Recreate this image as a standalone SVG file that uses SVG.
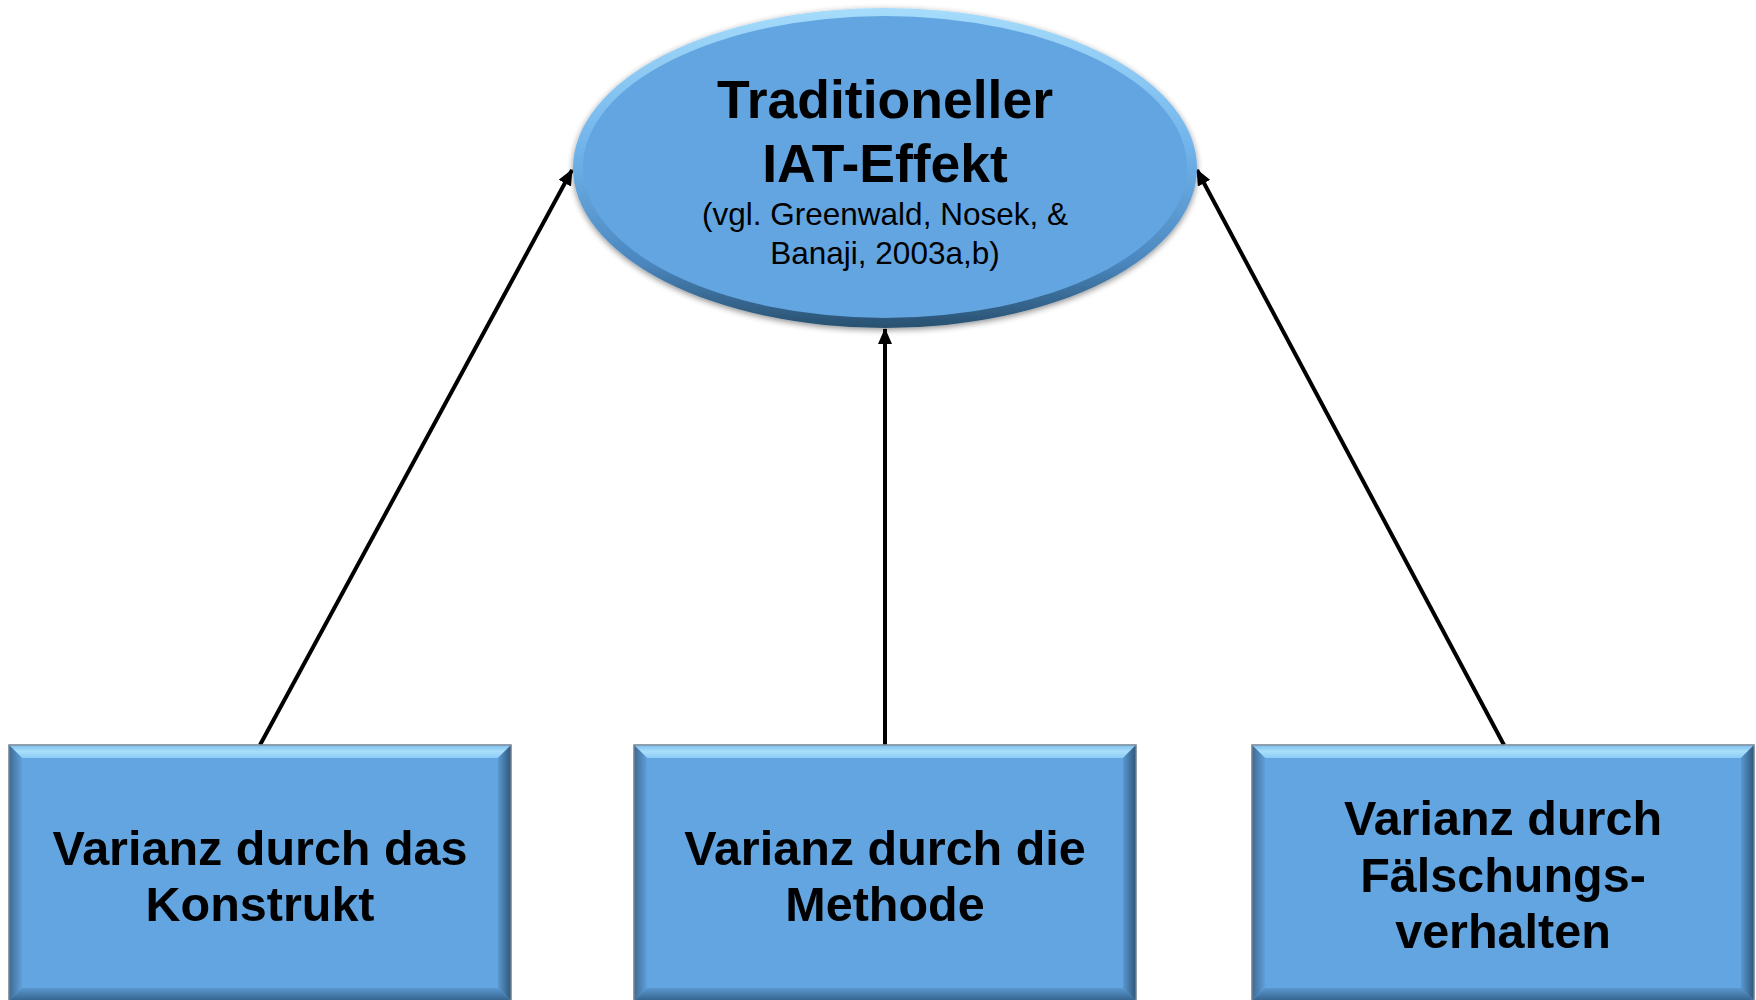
<svg xmlns="http://www.w3.org/2000/svg" xmlns:xlink="http://www.w3.org/1999/xlink" width="1756" height="1000" viewBox="0 0 1756 1000">
  <style>
    .big { font-family: "Liberation Sans", Arial, sans-serif; font-weight: bold; font-size: 53.5px; fill: #000; text-anchor: middle; }
    .small { font-family: "Liberation Sans", Arial, sans-serif; font-size: 31.5px; fill: #000; text-anchor: middle; }
    .box { font-family: "Liberation Sans", Arial, sans-serif; font-weight: bold; font-size: 48.5px; fill: #000; text-anchor: middle; }
    .conn { stroke: #000; stroke-width: 4; fill: none; marker-end: url(#arrow); }
  </style>
  <defs>
    <marker id="arrow" markerUnits="userSpaceOnUse" markerWidth="16" markerHeight="14" refX="15" refY="7" orient="auto">
      <path d="M0,0 L16,7 L0,14 Z" fill="#000"/>
    </marker>
    <linearGradient id="ellRing" x1="0" y1="0" x2="0" y2="1">
      <stop offset="0" stop-color="#A6DCFB"/>
      <stop offset="0.45" stop-color="#6FB2EA"/>
      <stop offset="0.8" stop-color="#4A86BD"/>
      <stop offset="1" stop-color="#28506F"/>
    </linearGradient>
    <linearGradient id="topBev" x1="0" y1="0" x2="0" y2="1">
      <stop offset="0" stop-color="#7DBDEA"/>
      <stop offset="0.5" stop-color="#A9DEFB"/>
      <stop offset="1" stop-color="#8CCBF4"/>
    </linearGradient>
    <linearGradient id="rightBev" x1="0" y1="0" x2="1" y2="0">
      <stop offset="0" stop-color="#5A98D2"/>
      <stop offset="1" stop-color="#2F5678"/>
    </linearGradient>
    <linearGradient id="leftBev" x1="0" y1="0" x2="1" y2="0">
      <stop offset="0" stop-color="#3E6A92"/>
      <stop offset="1" stop-color="#5F9FDA"/>
    </linearGradient>
    <linearGradient id="botBev" x1="0" y1="0" x2="0" y2="1">
      <stop offset="0" stop-color="#5A97CF"/>
      <stop offset="1" stop-color="#34628C"/>
    </linearGradient>
    <filter id="shadow" x="-10%" y="-10%" width="120%" height="125%">
      <feGaussianBlur in="SourceAlpha" stdDeviation="3"/>
      <feOffset dx="0" dy="2" result="b"/>
      <feComponentTransfer><feFuncA type="linear" slope="0.45"/></feComponentTransfer>
      <feMerge><feMergeNode/><feMergeNode in="SourceGraphic"/></feMerge>
    </filter>
    <g id="boxShape">
      <rect x="0" y="0" width="502" height="256" fill="#63A5E0" stroke="#7F8B96" stroke-width="1.2"/>
      <polygon points="0,0 502,0 489,13 13,13" fill="url(#topBev)"/>
      <polygon points="0,0 13,13 13,243 0,256" fill="url(#leftBev)"/>
      <polygon points="502,0 489,13 489,243 502,256" fill="url(#rightBev)"/>
      <polygon points="0,256 13,243 489,243 502,256" fill="url(#botBev)"/>
      <rect x="0" y="0" width="502" height="256" fill="none" stroke="#7F8B96" stroke-width="1.2"/>
    </g>
  </defs>

  <g id="connectors">
    <line class="conn" x1="260" y1="745" x2="572" y2="170"/>
    <line class="conn" x1="885" y1="745" x2="885" y2="329"/>
    <line class="conn" x1="1504" y1="745" x2="1197" y2="170"/>
  </g>

  <g id="node-iat">
    <g filter="url(#shadow)">
      <ellipse cx="885" cy="168" rx="312" ry="160" fill="url(#ellRing)"/>
      <ellipse cx="885" cy="167" rx="302" ry="151" fill="#63A5E0"/>
    </g>
    <text class="big" x="885" y="118">Traditioneller</text>
    <text class="big" x="885" y="182">IAT-Effekt</text>
    <text class="small" x="885" y="225">(vgl. Greenwald, Nosek, &amp;</text>
    <text class="small" x="885" y="264">Banaji, 2003a,b)</text>
  </g>

  <g id="node-konstrukt">
    <use xlink:href="#boxShape" x="9" y="745"/>
    <text class="box" x="260" y="865">Varianz durch das</text>
    <text class="box" x="260" y="921">Konstrukt</text>
  </g>

  <g id="node-methode">
    <use xlink:href="#boxShape" x="634" y="745"/>
    <text class="box" x="885" y="865">Varianz durch die</text>
    <text class="box" x="885" y="921">Methode</text>
  </g>

  <g id="node-faelschung">
    <use xlink:href="#boxShape" x="1252" y="745"/>
    <text class="box" x="1503" y="835">Varianz durch</text>
    <text class="box" x="1503" y="892">Fälschungs-</text>
    <text class="box" x="1503" y="948">verhalten</text>
  </g>
</svg>
